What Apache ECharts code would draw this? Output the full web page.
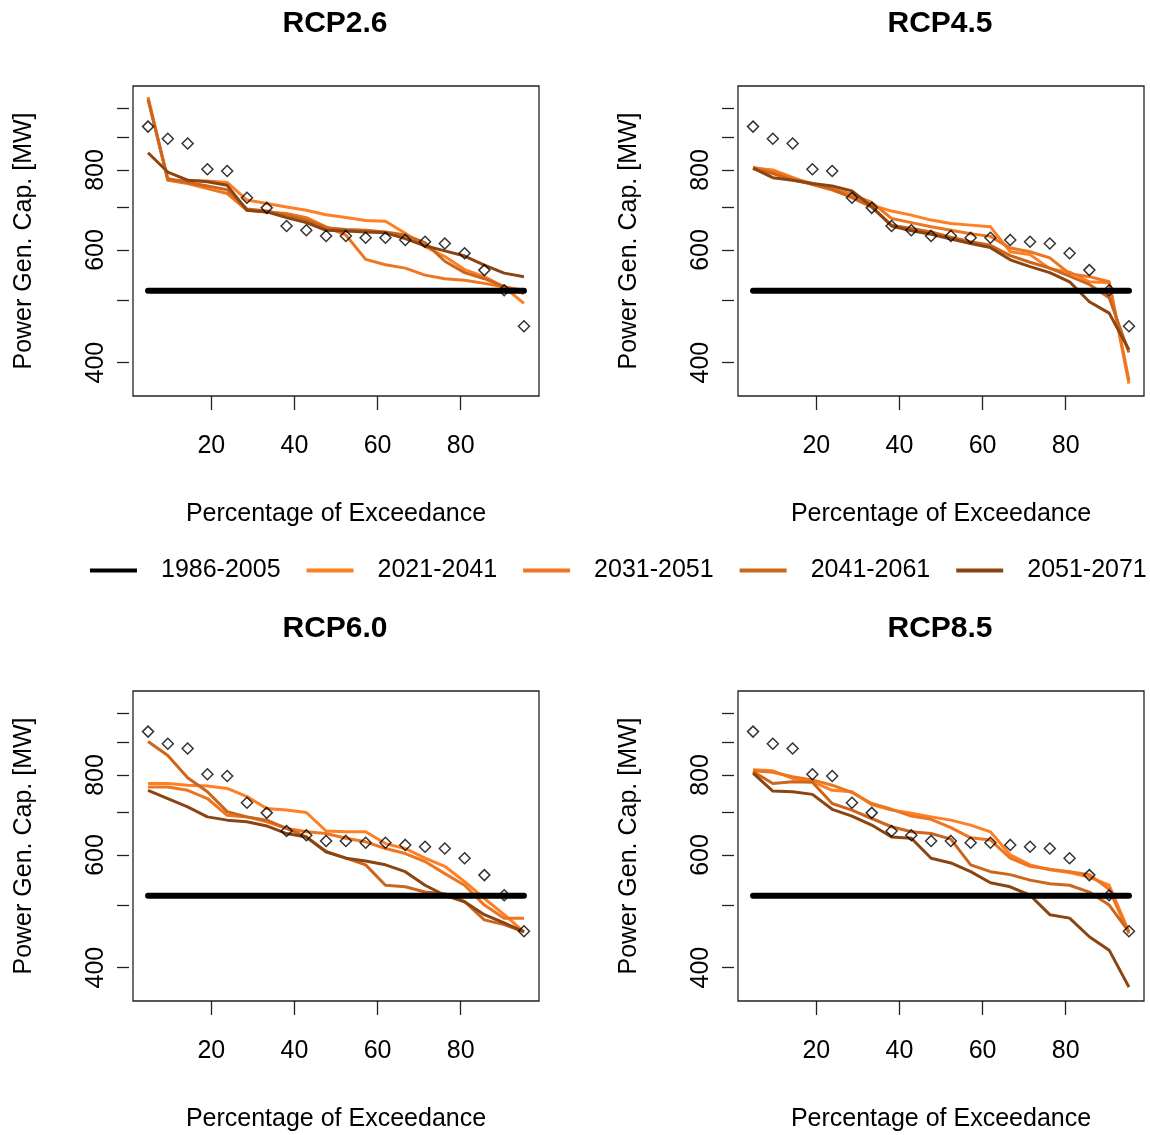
<!DOCTYPE html>
<html>
<head>
<meta charset="utf-8">
<script src="https://cdn.jsdelivr.net/npm/echarts@6/dist/echarts.min.js"></script>
<style>
html, body { margin: 0; padding: 0; background: #fff; }
#main { width: 1150px; height: 1135px; }
</style>
</head>
<body>
<div id="main"></div>
<script>
// percentage of exceedance, 20 ranked values
const pctExceed = [4.76, 9.52, 14.29, 19.05, 23.81, 28.57, 33.33, 38.10, 42.86, 47.62,
                   52.38, 57.14, 61.90, 66.67, 71.43, 76.19, 80.95, 85.71, 90.48, 95.24];

const xTicks = [20, 40, 60, 80];
const yTicks = [400, 500, 600, 700, 800, 900, 1000];
const yLabels = [400, 600, 800];

const periods = ['1986-2005', '2021-2041', '2031-2051', '2041-2061', '2051-2071'];
const periodColors = ['#000000', '#FF7F24', '#EE7621', '#CD661D', '#8B4513'];

// reference period (flat) and observed points (diamonds)
const baseline = [518, 518, 518, 518, 518, 518, 518, 518, 518, 518,
                  518, 518, 518, 518, 518, 518, 518, 518, 518, 518];
const observed = [935, 895, 880, 802, 797, 724, 698, 654, 644, 631,
                  631, 627, 627, 622, 618, 614, 593, 558, 519, 456];

// RCP2.6
const rcp26_2021 = [1040, 771, 771, 769, 765, 718, 709, 700, 692, 681, 674, 667, 665, 637, 607, 586, 559, 545, 525, 495];
const rcp26_2031 = [1035, 771, 762, 748, 735, 692, 688, 684, 674, 652, 633, 580, 569, 562, 548, 541, 538, 532, 525, 519];
const rcp26_2041 = [1030, 775, 765, 755, 745, 695, 690, 680, 668, 650, 646, 644, 640, 633, 616, 576, 553, 541, 526, 513];
const rcp26_2051 = [851, 794, 771, 767, 757, 692, 688, 674, 662, 644, 642, 640, 638, 625, 609, 598, 587, 568, 552, 545];

// RCP4.5
const rcp45_2021 = [806, 800, 779, 759, 744, 726, 705, 690, 680, 668, 660, 656, 652, 596, 590, 561, 554, 535, 533, 371];
const rcp45_2031 = [808, 795, 776, 762, 748, 733, 712, 672, 662, 652, 644, 636, 630, 604, 596, 583, 551, 545, 535, 375];
const rcp45_2041 = [804, 790, 772, 760, 746, 724, 700, 656, 648, 640, 628, 618, 610, 588, 574, 562, 546, 530, 505, 415];
const rcp45_2051 = [805, 778, 771, 762, 755, 742, 701, 654, 643, 635, 624, 614, 605, 579, 565, 553, 535, 498, 478, 419];

// RCP6.0
const rcp60_2021 = [776, 776, 771, 769, 762, 740, 709, 705, 699, 654, 652, 652, 625, 614, 593, 576, 545, 513, 484, 455];
const rcp60_2031 = [766, 766, 757, 735, 692, 688, 676, 660, 652, 648, 637, 629, 614, 603, 586, 561, 538, 501, 478, 478];
const rcp60_2041 = [902, 858, 792, 753, 701, 688, 680, 660, 640, 607, 593, 579, 538, 535, 525, 522, 507, 475, 467, 455];
const rcp60_2051 = [757, 735, 713, 688, 680, 676, 666, 648, 640, 607, 593, 587, 579, 565, 538, 519, 507, 484, 470, 455];

// RCP8.5
const rcp85_2021 = [815, 812, 790, 781, 757, 753, 719, 705, 697, 688, 680, 668, 652, 600, 579, 569, 563, 554, 538, 455];
const rcp85_2031 = [812, 808, 795, 786, 771, 751, 722, 707, 690, 682, 662, 638, 633, 593, 576, 570, 565, 559, 530, 452];
const rcp85_2041 = [810, 776, 781, 779, 722, 705, 684, 664, 652, 648, 635, 579, 565, 559, 548, 541, 538, 525, 501, 455];
const rcp85_2051 = [805, 755, 753, 746, 707, 690, 668, 640, 637, 593, 583, 565, 543, 535, 519, 484, 478, 447, 426, 373];

const panels = [
    { title: 'RCP2.6', lines: [rcp26_2021, rcp26_2031, rcp26_2041, rcp26_2051] },
    { title: 'RCP4.5', lines: [rcp45_2021, rcp45_2031, rcp45_2041, rcp45_2051] },
    { title: 'RCP6.0', lines: [rcp60_2021, rcp60_2031, rcp60_2041, rcp60_2051] },
    { title: 'RCP8.5', lines: [rcp85_2021, rcp85_2031, rcp85_2041, rcp85_2051] }
];

const boxes = [
    { left: 133, top: 86 }, { left: 738, top: 86 },
    { left: 133, top: 691 }, { left: 738, top: 691 }
];
const boxW = 406, boxH = 310;
const font = 'Liberation Sans, Arial, sans-serif';

function pairs(values) {
    return pctExceed.map((x, i) => [x, values[i]]);
}

const series = [];
panels.forEach((p, k) => {
    p.lines.forEach((vals, j) => {
        series.push({
            name: periods[j + 1],
            type: 'line',
            xAxisIndex: k,
            yAxisIndex: k,
            data: pairs(vals),
            showSymbol: false,
            itemStyle: { color: periodColors[j + 1] },
            lineStyle: { color: periodColors[j + 1], width: 3, join: 'round' },
            z: 2 + j * 0.1
        });
    });
    series.push({
        name: periods[0],
        type: 'line',
        xAxisIndex: k,
        yAxisIndex: k,
        data: pairs(baseline),
        showSymbol: false,
        itemStyle: { color: '#000' },
        lineStyle: { color: '#000', width: 6, cap: 'round' },
        z: 3
    });
    series.push({
        name: 'observed',
        type: 'scatter',
        xAxisIndex: k,
        yAxisIndex: k,
        data: pairs(observed),
        symbol: 'diamond',
        symbolSize: 11,
        itemStyle: { color: 'rgba(0,0,0,0)', borderColor: '#000', borderWidth: 1.5 },
        z: 4
    });
});

var myChart = echarts.init(document.getElementById('main'));
myChart.setOption({
    animation: false,
    backgroundColor: '#fff',
    textStyle: { fontFamily: font },
    title: panels.map((p, k) => ({
        text: p.title,
        left: boxes[k].left + 197,
        top: boxes[k].top - 82,
        textAlign: 'center',
        textStyle: { fontSize: 30, fontWeight: 'bold', color: '#000', fontFamily: font }
    })),
    legend: {
        data: periods,
        left: 90,
        top: 558,
        width: 1100,
        padding: 0,
        icon: 'rect',
        itemWidth: 47,
        itemHeight: 4,
        itemGap: 26,
        textStyle: { fontSize: 25, color: '#000', fontFamily: font, padding: [0, 0, 0, 19] }
    },
    grid: boxes.map(b => ({
        left: b.left,
        top: b.top,
        width: boxW,
        height: boxH,
        show: true,
        borderColor: '#222',
        borderWidth: 1.3,
        backgroundColor: 'transparent'
    })),
    xAxis: boxes.map((b, k) => ({
        gridIndex: k,
        type: 'value',
        min: 1.14,
        max: 98.86,
        name: 'Percentage of Exceedance',
        nameLocation: 'middle',
        nameGap: 106,
        nameTextStyle: { fontSize: 25, color: '#000', fontFamily: font },
        axisLine: { show: false },
        splitLine: { show: false },
        axisTick: { show: true, length: 14, customValues: xTicks, lineStyle: { color: '#222', width: 1.3 } },
        axisLabel: { customValues: xTicks, fontSize: 25, color: '#000', margin: 38, fontFamily: font }
    })),
    yAxis: boxes.map((b, k) => ({
        gridIndex: k,
        type: 'log',
        logBase: 10,
        min: 354.8,
        max: 1082,
        offset: 4,
        name: 'Power Gen. Cap. [MW]',
        nameLocation: 'middle',
        nameGap: 92,
        nameTextStyle: { fontSize: 25, color: '#000', fontFamily: font },
        axisLine: { show: false },
        splitLine: { show: false },
        minorTick: { show: false },
        axisTick: { show: true, length: 12, customValues: yTicks, lineStyle: { color: '#222', width: 1.3 } },
        axisLabel: { customValues: yLabels, rotate: 90, fontSize: 25, color: '#000', margin: 20, fontFamily: font }
    })),
    series: series
});
</script>
</body>
</html>
